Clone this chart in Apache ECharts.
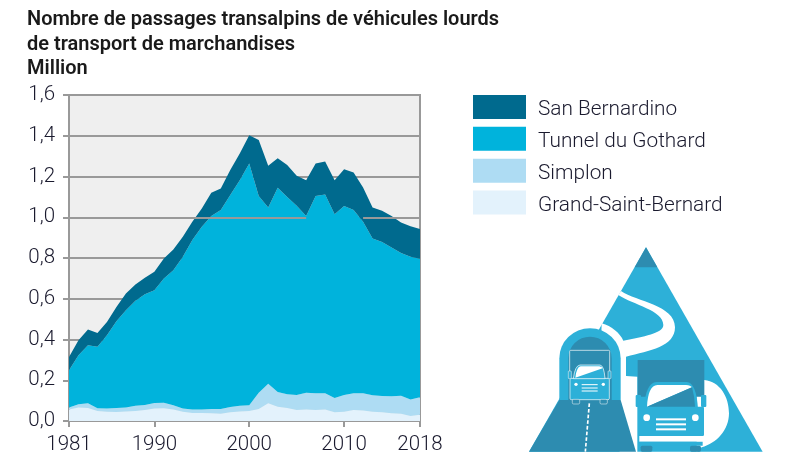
<!DOCTYPE html>
<html>
<head>
<meta charset="utf-8">
<script src="https://cdn.jsdelivr.net/npm/echarts@6/dist/echarts.min.js"></script>
<style>html,body{margin:0;padding:0;background:#fff}#main{width:793px;height:471px}</style>
</head>
<body>
<div id="main"></div>
<script>
const years = [];
for (let y = 1981; y <= 2018; y++) years.push(String(y));
const yearLabels = ['1981', '1990', '2000', '2010', '2018'];
const seriesNames = ['Grand-Saint-Bernard', 'Simplon', 'Tunnel du Gothard', 'San Bernardino'];
const legendOrder = ['San Bernardino', 'Tunnel du Gothard', 'Simplon', 'Grand-Saint-Bernard'];
const colors = ['#e3f2fc', '#aedcf3', '#00b3dc', '#006a8e'];

const grandSaintBernard = [.056, .066, .064, .049, .046, .044, .047, .049, .054, .061, .062, .056, .046, .039, .039, .038, .036, .043, .047, .049,
  .059, .087, .070, .064, .054, .056, .054, .056, .043, .046, .054, .051, .046, .043, .038, .036, .025, .031];
const simplon = [.010, .016, .023, .013, .015, .020, .019, .026, .025, .027, .028, .021, .015, .017, .018, .021, .023, .026, .028, .028,
  .080, .096, .072, .067, .074, .083, .082, .080, .070, .082, .082, .085, .080, .080, .083, .088, .080, .085];
const gothard = [.183, .241, .285, .302, .360, .426, .478, .515, .543, .554, .610, .663, .745, .832, .896, .947, .976, 1.040, 1.107, 1.187,
  .965, .865, 1.003, .969, .928, .867, .968, .976, .902, .927, .899, .842, .770, .756, .731, .701, .701, .680];
const sanBernardino = [.065, .073, .077, .068, .065, .070, .082, .080, .081, .090, .098, .102, .098, .090, .090, .114, .106, .123, .131, .139,
  .275, .205, .144, .156, .148, .176, .160, .162, .167, .180, .185, .168, .152, .153, .154, .149, .150, .146];
const seriesValues = [grandSaintBernard, simplon, gothard, sanBernardino];

const GREY = '#999999';
const LIGHT = '#2db0d8';
const DARK = '#2d8cb0';
const FONT = 'Roboto';
const TEXT = '#1a1a2e';

const myChart = echarts.init(document.getElementById('main'));

// pictogramme dessine dans le repere du zoom (echelle 1/3)
let shapeCount = 0;
function p(pathData, style) {
  const name = 'iconShape' + (shapeCount++);
  echarts.graphic.registerShape(name, echarts.graphic.extendPath(pathData, {}));
  return { type: name, style: typeof style === 'string' ? { fill: style } : style };
}
function line(x1, y1, x2, y2, w) {
  return { type: 'line', shape: { x1: x1, y1: y1, x2: x2, y2: y2 }, style: { stroke: '#fff', lineWidth: w } };
}
const icon = [
  p('M378,22 L728,635 L27,635 Z', LIGHT),
  p('M378,22 L412,82 L344,82 Z', DARK),
  // route blanche
  p('M303,153 C350,185 465,195 465,262 C465,320 390,332 318,350 L318,408 L352,410 L352,640 L300,640 L240,400 L245,250 C275,258 300,280 310,302 C370,290 430,280 430,255 C430,210 340,195 295,165 Z', '#fff'),
  p('M530,420 L553,420 C600,425 627,470 627,520 C627,570 590,610 545,622 L530,636 Z', '#fff'),
  // tunnel
  p('M118,480 L118,355 A92,90 0 0 1 302,355 L302,480 Z', LIGHT),
  p('M145,480 L145,355 A65,65 0 0 1 275,355 L275,480 Z', DARK),
  p('M118,480 L302,480 L348,635 L27,635 Z', DARK),
  { type: 'line', shape: { x1: 208, y1: 490, x2: 196, y2: 635 }, style: { stroke: '#fff', lineWidth: 5, lineDash: [11, 6] } },
  // petit camion
  { type: 'rect', shape: { x: 149, y: 331, width: 120, height: 85, r: 3 }, style: { fill: DARK, stroke: '#fff', lineWidth: 2 } },
  { type: 'rect', shape: { x: 150, y: 415, width: 118, height: 64, r: 4 }, style: { fill: LIGHT, stroke: '#fff', lineWidth: 2 } },
  { type: 'rect', shape: { x: 145, y: 393, width: 9, height: 23, r: 2 }, style: { fill: LIGHT, stroke: '#fff', lineWidth: 1.5 } },
  { type: 'rect', shape: { x: 264, y: 393, width: 9, height: 23, r: 2 }, style: { fill: LIGHT, stroke: '#fff', lineWidth: 1.5 } },
  p('M160,416 Q165,376 180,375 L240,375 Q252,376 255,416 Z', { fill: LIGHT, stroke: '#fff', lineWidth: 2 }),
  p('M166,413 Q170,380 182,379 L238,379 Q246,380 248,385 Z', '#fff'),
  { type: 'circle', shape: { cx: 168, cy: 433, r: 5 }, style: { fill: '#fff' } },
  { type: 'circle', shape: { cx: 250, cy: 433, r: 5 }, style: { fill: '#fff' } },
  line(185, 434, 233, 434, 3), line(185, 444, 233, 444, 3), line(185, 453, 233, 453, 3),
  { type: 'rect', shape: { x: 157, y: 478, width: 22, height: 14, r: 4 }, style: { fill: DARK, stroke: '#fff', lineWidth: 1.5 } },
  { type: 'rect', shape: { x: 240, y: 478, width: 22, height: 14, r: 4 }, style: { fill: DARK, stroke: '#fff', lineWidth: 1.5 } },
  // grand camion
  { type: 'rect', shape: { x: 353, y: 360, width: 200, height: 110 }, style: { fill: DARK } },
  { type: 'rect', shape: { x: 355, y: 500, width: 197, height: 88, r: 4 }, style: { fill: LIGHT } },
  p('M372,510 Q375,428 410,426 L500,426 Q530,428 534,510 Z', LIGHT),
  p('M381,500 Q384,437 412,435 L498,435 Q512,436 516,442 Z', '#fff'),
  p('M381,500 L516,442 Q524,470 525,500 Z', DARK),
  { type: 'rect', shape: { x: 347, y: 465, width: 16, height: 36, r: 3 }, style: { fill: LIGHT } },
  { type: 'rect', shape: { x: 543, y: 465, width: 16, height: 36, r: 3 }, style: { fill: LIGHT } },
  { type: 'circle', shape: { cx: 380, cy: 533, r: 10 }, style: { fill: '#fff' } },
  { type: 'circle', shape: { cx: 526, cy: 533, r: 10 }, style: { fill: '#fff' } },
  line(408, 538, 498, 538, 6), line(408, 553, 498, 553, 6), line(408, 568, 498, 568, 6),
  { type: 'rect', shape: { x: 358, y: 588, width: 190, height: 17 }, style: { fill: '#fff' } },
  { type: 'rect', shape: { x: 358, y: 605, width: 190, height: 12 }, style: { fill: LIGHT } },
  { type: 'rect', shape: { x: 362, y: 617, width: 35, height: 18, r: 5 }, style: { fill: DARK } },
  { type: 'rect', shape: { x: 510, y: 617, width: 33, height: 18, r: 5 }, style: { fill: DARK } }
];

const series = seriesNames.map(function (name, i) {
  return {
    name: name,
    type: 'line',
    stack: 'total',
    data: seriesValues[i],
    symbol: 'none',
    lineStyle: { width: 0 },
    itemStyle: { color: colors[i] },
    areaStyle: { color: colors[i], opacity: 1 }
  };
});
// la ligne 1,0 passe au-dessus des surfaces dans l'original
series[3].markLine = {
  silent: true,
  symbol: 'none',
  label: { show: false },
  lineStyle: { color: GREY, width: 2, type: 'solid' },
  data: [
    [{ coord: ['1981', 1] }, { coord: ['2006', 1] }],
    [{ coord: ['2012', 1] }, { coord: ['2018', 1] }]
  ]
};

const option = {
  animation: false,
  backgroundColor: '#fff',
  textStyle: { fontFamily: FONT },
  title: {
    text: 'Nombre de passages transalpins de véhicules lourds\nde transport de marchandises\nMillion',
    left: 27,
    top: 8,
    padding: 0,
    textStyle: { fontFamily: FONT, fontSize: 20, fontWeight: 600, color: '#1a1a1a', lineHeight: 24.5 }
  },
  legend: {
    data: legendOrder,
    orient: 'vertical',
    left: 473,
    top: 95,
    padding: 0,
    itemWidth: 53,
    itemHeight: 24,
    itemGap: 6.33,
    selectedMode: false,
    icon: 'rect',
    formatter: '{a|{name}}',
    textStyle: {
      rich: {
        a: { fontFamily: FONT, fontSize: 20.8, fontWeight: 300, color: TEXT, height: 18, lineHeight: 18, padding: [6, 0, 0, 7] }
      }
    }
  },
  grid: {
    show: true,
    left: 69,
    right: 373,
    top: 95,
    bottom: 50,
    backgroundColor: '#efefef',
    borderColor: GREY,
    borderWidth: 2
  },
  xAxis: {
    type: 'category',
    data: years,
    boundaryGap: false,
    axisLine: { lineStyle: { color: GREY, width: 2 } },
    axisTick: {
      length: 6,
      lineStyle: { color: GREY, width: 2 },
      interval: function (i, v) { return yearLabels.indexOf(v) >= 0; }
    },
    axisLabel: {
      margin: 13,
      fontFamily: FONT,
      fontSize: 20.5,
      fontWeight: 300,
      color: TEXT,
      hideOverlap: false,
      interval: function (i, v) { return yearLabels.indexOf(v) >= 0; }
    }
  },
  yAxis: {
    type: 'value',
    min: 0,
    max: 1.6,
    interval: 0.2,
    axisLine: { show: true, lineStyle: { color: GREY, width: 2 } },
    axisTick: { show: true, length: 6, lineStyle: { color: GREY, width: 2 } },
    splitLine: { lineStyle: { color: GREY, width: 2 } },
    axisLabel: {
      margin: 14,
      fontFamily: FONT,
      fontSize: 20.5,
      fontWeight: 300,
      color: TEXT,
      formatter: function (v) { return v.toFixed(1).replace('.', ','); }
    }
  },
  series: series,
  graphic: [{ type: 'group', x: 520, y: 240, scaleX: 1 / 3, scaleY: 1 / 3, children: icon }]
};

myChart.setOption(option);
</script>
</body>
</html>
